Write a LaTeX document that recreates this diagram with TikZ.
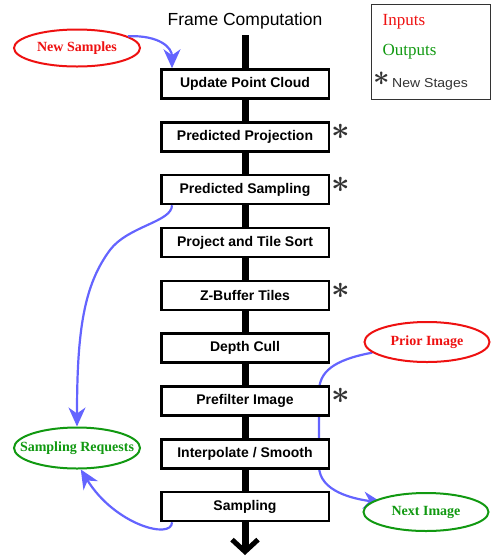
\documentclass[tikz,border=0pt]{standalone}
\usepackage{fontspec}
\setmainfont{Liberation Serif}
\newfontfamily\arialfont{Liberation Sans}
\usetikzlibrary{shapes.geometric,arrows.meta}
\definecolor{flowblue}{HTML}{6464FF}
\definecolor{inred}{HTML}{EE1111}
\definecolor{outgreen}{HTML}{119911}
\definecolor{stargray}{HTML}{333333}
\pgfdeclarelayer{background}
\pgfsetlayers{background,main}
\newcommand{\newstagemark}[1]{\scalebox{#1}{\boldmath$\ast$}}
\begin{document}
\begin{tikzpicture}[x=1pt,y=-1pt,
  stage/.style={draw=black, line width=2.5pt, fill=white, minimum width=167.5pt,
    minimum height=29pt, inner sep=0pt, font=\arialfont\bfseries\fontsize{14}{16}\selectfont},
  inoval/.style={ellipse, draw=inred, line width=2pt, text=inred, fill=white, inner sep=0pt,
    font=\bfseries\fontsize{14}{16}\selectfont},
  outoval/.style={ellipse, draw=outgreen, line width=2pt, text=outgreen, fill=white, inner sep=0pt,
    font=\bfseries\fontsize{14}{16}\selectfont},
  flow/.style={draw=flowblue, line width=2.2pt, -{Stealth[length=19pt,width=17pt,inset=6pt]}},
  newmark/.style={text=stargray, inner sep=0pt, font=\fontsize{24.88}{26}\selectfont},
  spine/.style={line width=7pt, -{Straight Barb[length=12pt,width=26pt,line width=5pt]}},
  legendtext/.style={inner sep=0pt, anchor=west, font=\fontsize{17}{19}\selectfont}
]
\useasboundingbox (0,0) rectangle (491,558);

% title and spine
\node[font=\arialfont\fontsize{17.5}{19}\selectfont, inner sep=0pt] (title) at (245,20.5) {Frame Computation};
\coordinate (spinetop) at (245,35);
\coordinate (spinebot) at (245,555);

% stages
\node[stage] (update)   at (245,84)  {Update Point Cloud};
\node[stage] (predproj) at (245,137) {Predicted Projection};
\node[stage] (predsamp) at (245,189.5) {Predicted Sampling};
\node[stage] (tilesort) at (245,242.5) {Project and Tile Sort};
\node[stage] (zbuf)     at (245,295.5) {Z-Buffer Tiles};
\node[stage] (depth)    at (245,348) {Depth Cull};
\node[stage] (prefilt)  at (245,401) {Prefilter Image};
\node[stage] (interp)   at (245,454) {Interpolate / Smooth};
\node[stage] (samp)     at (245,506.5) {Sampling};

% new stage marks
\node[newmark] (m1) at (340.5,132) {\newstagemark{1.3}};
\node[newmark] (m2) at (340.5,184.5) {\newstagemark{1.3}};
\node[newmark] (m3) at (340.5,290.5) {\newstagemark{1.3}};
\node[newmark] (m4) at (340.5,396) {\newstagemark{1.3}};

% inputs / outputs
\node[inoval, minimum width=126pt, minimum height=37pt] (newsamp) at (77,48) {\makebox[0pt]{New Samples}};
\node[outoval, minimum width=126pt, minimum height=41pt] (sampreq) at (77,448) {\makebox[0pt]{Sampling Requests}};
\node[inoval, minimum width=125pt, minimum height=40pt] (prior) at (427,342) {\makebox[0pt]{Prior Image}};
\node[outoval, minimum width=125pt, minimum height=38pt] (nextimg) at (426,512) {\makebox[0pt]{Next Image}};

% legend
\node[draw=stargray, line width=1pt, minimum width=119pt, minimum height=95pt, inner sep=0pt] (legend) at (430.5,51.5) {};
\node[legendtext, text=inred] (lin) at (382.5,22) {Inputs};
\node[legendtext, text=outgreen] (lout) at (382.5,52) {Outputs};
\node[newmark] (lmark) at (382,79) {\newstagemark{1.15}};
\node[inner sep=0pt, anchor=west, text=stargray, font=\arialfont\fontsize{13}{15}\selectfont] (lnew) at (392,84) {\scalebox{1.08}[1]{New Stages}};

% background: spine and image pass-through
\begin{pgfonlayer}{background}
\draw[spine] (spinetop) -- (spinebot);
\draw[flow] (prior.191) .. controls (333,360) and (319,372) .. (319,392)
  -- (319,466) .. controls (319,492) and (355,499) .. ([shift={(9pt,-2pt)}]nextimg.168);
\end{pgfonlayer}

% flows
\draw[flow] (newsamp.13) .. controls (160,35) and (172,48) .. ([xshift=12pt]update.north west);
\draw[flow] ([xshift=12pt]predsamp.south west) .. controls (172,222) and (128,226) .. (110,250)
  .. controls (84,285) and (77,330) .. (sampreq.north);
\draw[flow] ([xshift=12pt]samp.south west) .. controls (172,540) and (115,525) .. (sampreq.-80);
\end{tikzpicture}
\end{document}
